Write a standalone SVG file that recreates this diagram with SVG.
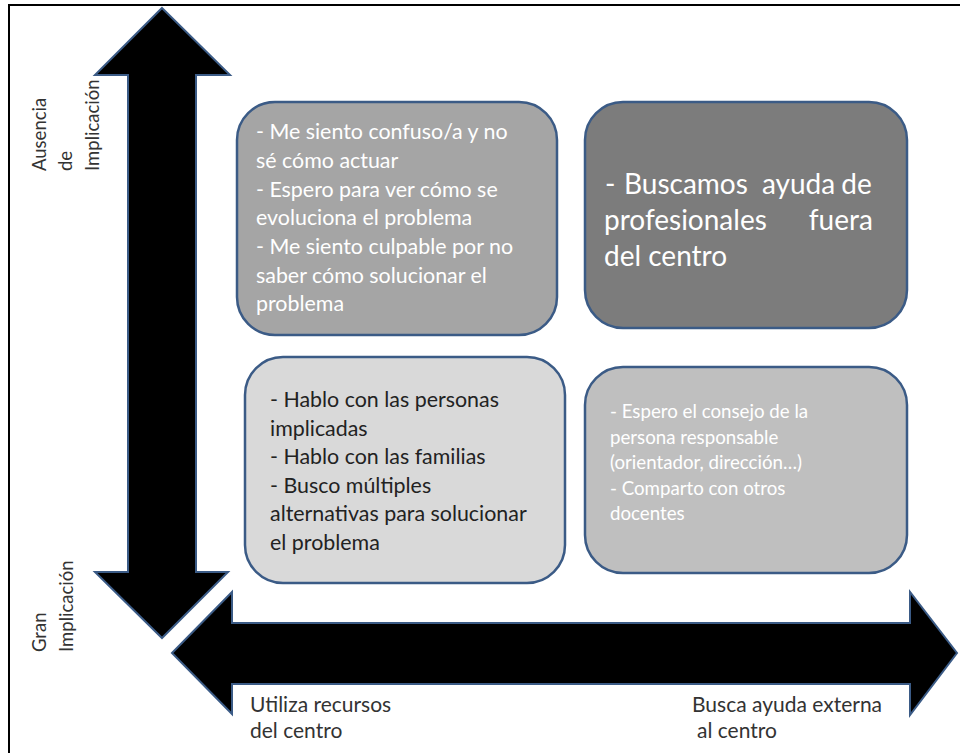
<svg xmlns="http://www.w3.org/2000/svg" width="960" height="753" viewBox="0 0 960 753">
<style>
  .arrow { fill: #000; stroke: #3b5b86; stroke-width: 2; stroke-linejoin: miter; }
  .box { stroke: #3b5b86; stroke-width: 2.5; }
  .t { font-family: Lato, "Liberation Sans", sans-serif; font-size: 21.4px; }
  .s { font-family: Lato, "Liberation Sans", sans-serif; font-size: 18.7px; }
  .big { font-family: Lato, "Liberation Sans", sans-serif; font-size: 28px; fill: #fff; }
  .w { fill: #fff; }
  .d { fill: #222; }
  .lab { font-family: Lato, "Liberation Sans", sans-serif; font-size: 21px; fill: #333; }
  .vlab { font-family: Lato, "Liberation Sans", sans-serif; font-size: 18.5px; fill: #333; }
</style>
<rect x="0" y="0" width="960" height="753" fill="#fff"/>
<rect x="9" y="5" width="1000" height="800" fill="none" stroke="#000" stroke-width="2"/>
<g id="connectors">
  <polygon id="axis-vertical" class="arrow" points="162,8 230,75 196,75 196,572 228,572 162,638 95,572 128,572 128,75 95,75"/>
  <polygon id="axis-horizontal" class="arrow" points="172,653 232,592 232,623 910,623 910,592 957,653 910,715 910,684 232,684 232,714"/>
</g>
<g id="label-ausencia" class="vlab">
  <text transform="translate(46,171) rotate(-90)">Ausencia</text>
  <text transform="translate(72,171) rotate(-90)">de</text>
  <text transform="translate(99,171) rotate(-90)">Implicación</text>
</g>
<g id="label-gran" class="vlab">
  <text transform="translate(46,652) rotate(-90)">Gran</text>
  <text transform="translate(73,652) rotate(-90)">Implicación</text>
</g>
<g id="label-recursos" class="lab">
  <text x="250" y="712">Utiliza recursos</text>
  <text x="250" y="738">del centro</text>
</g>
<g id="label-externa" class="lab">
  <text x="692" y="712">Busca ayuda externa</text>
  <text x="697" y="738">al centro</text>
</g>
<g id="box-confuso">
  <rect class="box" x="237" y="102" width="320" height="233" rx="38" fill="#a5a5a5"/>
  <text class="t w">
    <tspan x="256" y="139">- Me siento confuso/a y no</tspan>
    <tspan x="256" y="168">sé cómo actuar</tspan>
    <tspan x="256" y="196.5">- Espero para ver cómo se</tspan>
    <tspan x="256" y="225">evoluciona el problema</tspan>
    <tspan x="256" y="254">- Me siento culpable por no</tspan>
    <tspan x="256" y="282.5">saber cómo solucionar el</tspan>
    <tspan x="256" y="311">problema</tspan>
  </text>
</g>
<g id="box-profesionales">
  <rect class="box" x="585" y="102" width="322" height="226" rx="38" fill="#7c7c7c"/>
  <text class="big">
    <tspan x="605" y="194">-</tspan><tspan x="624" y="194">Buscamos</tspan><tspan x="762" y="194">ayuda</tspan><tspan x="879" y="194" text-anchor="end">de</tspan>
    <tspan x="604" y="230">profesionales</tspan><tspan x="880" y="230" text-anchor="end">fuera</tspan>
    <tspan x="604" y="266">del centro</tspan>
  </text>
</g>
<g id="box-hablo">
  <rect class="box" x="245" y="357" width="320" height="226" rx="38" fill="#d9d9d9"/>
  <text class="t d">
    <tspan x="270" y="407">- Hablo con las personas</tspan>
    <tspan x="270" y="435.5">implicadas</tspan>
    <tspan x="270" y="464">- Hablo con las familias</tspan>
    <tspan x="270" y="492.5">- Busco múltiples</tspan>
    <tspan x="270" y="521">alternativas para solucionar</tspan>
    <tspan x="270" y="549.5">el problema</tspan>
  </text>
</g>
<g id="box-consejo">
  <rect class="box" x="585" y="367" width="322" height="206" rx="38" fill="#bfbfbf"/>
  <text class="s w">
    <tspan x="610" y="418">- Espero el consejo de la</tspan>
    <tspan x="610" y="443.5">persona responsable</tspan>
    <tspan x="610" y="469">(orientador, dirección…)</tspan>
    <tspan x="610" y="494.5">- Comparto con otros</tspan>
    <tspan x="610" y="520">docentes</tspan>
  </text>
</g>
</svg>
